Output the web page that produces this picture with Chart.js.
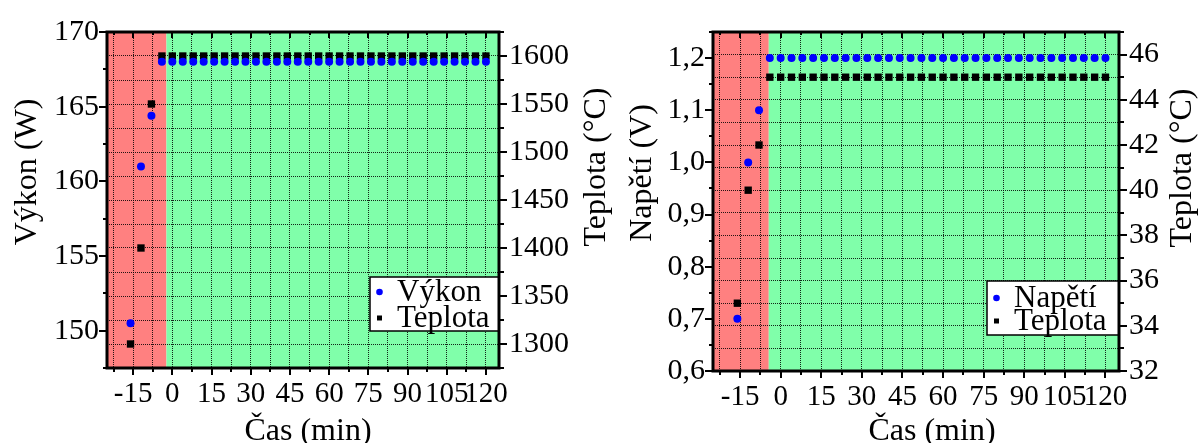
<!DOCTYPE html>
<html>
<head>
<meta charset="utf-8">
<script src="https://cdn.jsdelivr.net/npm/chart.js@4.4.1/dist/chart.umd.min.js"></script>
<style>
  html, body { margin: 0; padding: 0; background: #fff; }
  #wrap { position: relative; width: 1202px; height: 443px; }
  #left { position: absolute; left: 0; top: 0; }
  #right { position: absolute; left: 620px; top: 0; }
</style>
</head>
<body>
<div id="wrap">
  <canvas id="left" width="620" height="443"></canvas>
  <canvas id="right" width="582" height="443"></canvas>
</div>
<script>
// cas mereni (min)
const cas = [-16, -12, -8, -4, 0, 4, 8, 12, 16, 20, 24, 28, 32, 36, 40, 44, 48,
  52, 56, 60, 64, 68, 72, 76, 80, 84, 88, 92, 96, 100, 104, 108, 112, 116, 120];

// levy graf
const vykon = [150.5, 161.0, 164.4,
  168, 168, 168, 168, 168, 168, 168, 168,
  168, 168, 168, 168, 168, 168, 168, 168,
  168, 168, 168, 168, 168, 168, 168, 168,
  168, 168, 168, 168, 168, 168, 168, 168];
const teplotaL = [1300, 1400, 1550,
  1600, 1600, 1600, 1600, 1600, 1600, 1600, 1600,
  1600, 1600, 1600, 1600, 1600, 1600, 1600, 1600,
  1600, 1600, 1600, 1600, 1600, 1600, 1600, 1600,
  1600, 1600, 1600, 1600, 1600, 1600, 1600, 1600];

// pravy graf
const napeti = [0.70, 1.00, 1.10,
  1.2, 1.2, 1.2, 1.2, 1.2, 1.2, 1.2, 1.2,
  1.2, 1.2, 1.2, 1.2, 1.2, 1.2, 1.2, 1.2,
  1.2, 1.2, 1.2, 1.2, 1.2, 1.2, 1.2, 1.2,
  1.2, 1.2, 1.2, 1.2, 1.2, 1.2, 1.2, 1.2];
const teplotaR = [35, 40, 42,
  45, 45, 45, 45, 45, 45, 45, 45,
  45, 45, 45, 45, 45, 45, 45, 45,
  45, 45, 45, 45, 45, 45, 45, 45,
  45, 45, 45, 45, 45, 45, 45, 45];

// konec nabehu (cervena oblast)
const nabehL = -2.25;
const nabehR = -4.4;

const FONT = "'Liberation Serif', serif";
const GRID = 'rgba(0,0,0,0.85)';

const tiky = (od, po, krok) => s => {
  const t = [];
  for (let i = 0; od + i * krok <= po + 1e-9; i++) t.push({ value: +(od + i * krok).toFixed(3) });
  s.ticks = t;
};

// pozadi: cervena / zelena
const pozadi = {
  id: 'pozadi',
  beforeDraw(chart, args, o) {
    const { ctx, chartArea: a, scales: { x } } = chart;
    const xe = x.getPixelForValue(o.konec);
    ctx.save();
    ctx.fillStyle = '#ff8080';
    ctx.fillRect(a.left, a.top, xe - a.left, a.bottom - a.top);
    ctx.fillStyle = '#80ffaa';
    ctx.fillRect(xe, a.top, a.right - xe, a.bottom - a.top);
    ctx.restore();
  }
};

// ticky, legenda a ramecek
const ramecek = {
  id: 'ramecek',
  afterDatasetsDraw(chart, args, o) {
    const { ctx, chartArea: a, scales } = chart;
    ctx.save();
    ctx.strokeStyle = '#000';
    ctx.lineWidth = 2;
    const cara = (x1, y1, x2, y2) => { ctx.beginPath(); ctx.moveTo(x1, y1); ctx.lineTo(x2, y2); ctx.stroke(); };
    scales.x.ticks.forEach(t => {
      const p = Math.round(scales.x.getPixelForValue(t.value));
      const d = t.label !== '' ? 7 : 4;
      cara(p, a.bottom, p, a.bottom + d);
      cara(p, a.top, p, a.top + d - 1);
    });
    scales.y.ticks.forEach(t => {
      const p = Math.round(scales.y.getPixelForValue(t.value));
      cara(a.left, p, a.left - (t.label !== '' ? 8 : 4), p);
    });
    scales.y1.ticks.forEach(t => {
      const p = Math.round(scales.y1.getPixelForValue(t.value));
      cara(a.right, p, a.right + (t.label !== '' ? 8 : 5), p);
    });

    // legenda
    const x0 = a.right - o.w, y0 = a.bottom - o.mezera - o.h;
    ctx.fillStyle = '#fff';
    ctx.fillRect(x0, y0, o.w, o.h);
    ctx.lineWidth = 1.5;
    ctx.strokeRect(x0, y0, o.w, o.h);
    ctx.font = '31px ' + FONT;
    ctx.textAlign = 'left';
    ctx.textBaseline = 'middle';
    chart.data.datasets.forEach((ds, i) => {
      const y = y0 + o.radky[i];
      ctx.fillStyle = ds.backgroundColor;
      if (ds.pointStyle === 'rect') {
        ctx.fillRect(x0 + 7, y - 2.5, 5, 5);
      } else {
        ctx.beginPath(); ctx.arc(x0 + 9.5, y, 3.3, 0, 2 * Math.PI); ctx.fill();
      }
      ctx.fillStyle = '#000';
      ctx.fillText(ds.label, x0 + 27, y + 1);
    });

    ctx.lineWidth = 3;
    ctx.strokeRect(a.left, a.top, a.right - a.left, a.bottom - a.top);
    ctx.restore();
  }
};

// popisky os
const popisky = {
  id: 'popisky',
  afterDraw(chart, args, o) {
    const ctx = chart.ctx;
    ctx.save();
    ctx.font = '32px ' + FONT;
    ctx.fillStyle = '#000';
    ctx.textAlign = 'center';
    ctx.textBaseline = 'alphabetic';
    ctx.fillText(o.x[0], o.x[1], o.x[2]);
    ctx.textBaseline = 'middle';
    [o.y, o.y1].forEach(t => {
      ctx.save();
      ctx.translate(t[1], t[2]);
      ctx.rotate(-Math.PI / 2);
      ctx.fillText(t[0], 0, 0);
      ctx.restore();
    });
    ctx.restore();
  }
};

function graf(id, d) {
  const body = v => cas.map((c, i) => ({ x: c, y: v[i] }));
  const tickFont = { family: FONT, size: 30 };
  return new Chart(document.getElementById(id), {
    type: 'scatter',
    data: {
      datasets: [{
        label: d.nazev,
        data: body(d.hodnoty),
        yAxisID: 'y',
        pointStyle: 'circle',
        pointRadius: 4,
        borderWidth: 0,
        backgroundColor: '#0000ff'
      }, {
        label: 'Teplota',
        data: body(d.teplota),
        yAxisID: 'y1',
        pointStyle: 'rect',
        pointRadius: 5.2,
        borderWidth: 0,
        backgroundColor: '#000000'
      }]
    },
    options: {
      responsive: false,
      animation: false,
      events: [],
      layout: { padding: { top: 32, left: 0, right: 0, bottom: 0 } },
      plugins: {
        legend: { display: false },
        tooltip: { enabled: false },
        pozadi: { konec: d.konec },
        ramecek: d.legenda,
        popisky: d.popisky
      },
      scales: {
        x: {
          type: 'linear', min: -25, max: 125,
          afterBuildTicks: tiky(-22.5, 120, 7.5),
          afterFit: s => { s.height = d.dole; },
          grid: { color: GRID, lineWidth: 1, drawTicks: false },
          border: { display: false, dash: [1, 1] },
          ticks: {
            callback: v => (v % 15 === 0 ? String(v) : ''),
            font: { family: FONT, size: 29 }, color: '#000', padding: 9, maxRotation: 0, autoSkip: false
          }
        },
        y: {
          type: 'linear', position: 'left', min: d.y.min, max: d.y.max,
          afterBuildTicks: tiky(d.y.min, d.y.max, d.y.krok),
          afterFit: s => { s.width = d.vlevo; },
          grid: { drawOnChartArea: false, drawTicks: false },
          border: { display: false },
          ticks: { callback: d.y.popis, font: tickFont, color: '#000', padding: 8, autoSkip: false }
        },
        y1: {
          type: 'linear', position: 'right', min: d.y1.min, max: d.y1.max,
          afterBuildTicks: tiky(d.y1.min, d.y1.max, d.y1.krok),
          afterFit: s => { s.width = d.vpravo; },
          grid: { color: GRID, lineWidth: 1, drawTicks: false },
          border: { display: false, dash: [1, 1] },
          ticks: { callback: d.y1.popis, font: tickFont, color: '#000', padding: 10, autoSkip: false }
        }
      }
    },
    plugins: [pozadi, ramecek, popisky]
  });
}

graf('left', {
  nazev: 'Výkon', hodnoty: vykon, teplota: teplotaL, konec: nabehL,
  vlevo: 107, vpravo: 121, dole: 75,
  y: { min: 147.5, max: 170, krok: 2.5, popis: v => (v % 5 === 0 ? String(v) : '') },
  y1: { min: 1275, max: 1625, krok: 25, popis: v => (v % 50 === 0 ? String(v) : '') },
  legenda: { w: 129, h: 54, mezera: 37, radky: [15, 41] },
  popisky: { x: ['Čas (min)', 308, 440], y: ['Výkon (W)', 28, 172], y1: ['Teplota (°C)', 597, 167] }
});

graf('right', {
  nazev: 'Napětí', hodnoty: napeti, teplota: teplotaR, konec: nabehR,
  vlevo: 93, vpravo: 83, dole: 72,
  y: { min: 0.6, max: 1.25, krok: 0.05,
       popis: v => (Math.round(v * 100) % 10 === 0 ? v.toFixed(1).replace('.', ',') : '') },
  y1: { min: 32, max: 47, krok: 1, popis: v => (v % 2 === 0 ? String(v) : '') },
  legenda: { w: 132, h: 54, mezera: 36, radky: [17, 40] },
  popisky: { x: ['Čas (min)', 312, 440], y: ['Napětí (V)', 23, 173], y1: ['Teplota (°C)', 563, 168] }
});
</script>
</body>
</html>
